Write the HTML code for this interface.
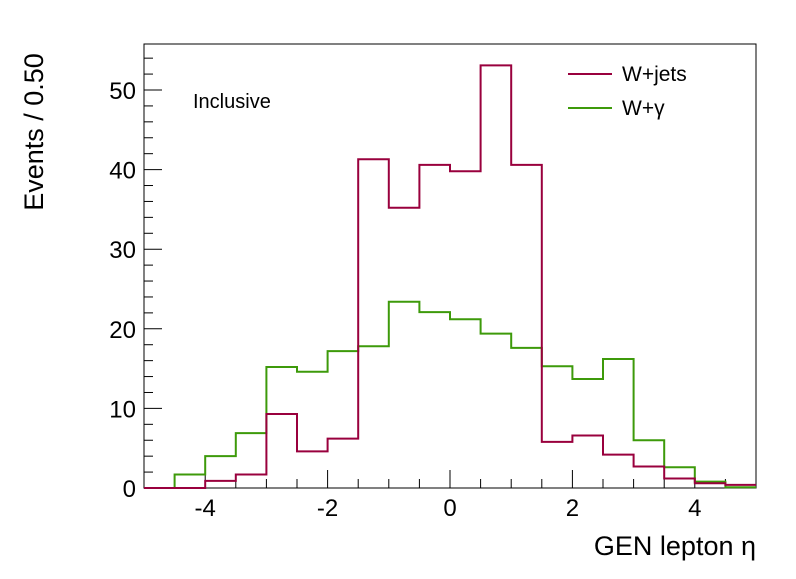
<!DOCTYPE html>
<html><head><meta charset="utf-8"><style>
body{margin:0;background:#fff}
svg text{font-family:"Liberation Sans",sans-serif;fill:#000}
</style></head><body>
<svg id="c" width="796" height="574">
<rect width="796" height="574" fill="#fff"/>
</svg>
<script>
const binEdgesMin=-5, binWidth=0.5;
const wjets=[0,0,0.9,1.7,9.3,4.6,6.2,41.3,35.2,40.6,39.8,53.1,40.6,5.8,6.6,4.2,2.7,1.2,0.6,0.4];
const wgamma=[0,1.7,4.0,6.9,15.2,14.6,17.2,17.8,23.4,22.1,21.2,19.4,17.6,15.3,13.7,16.2,6.0,2.6,0.8,0.1];
const xTicks=[-4,-2,0,2,4];
const yTicks=[0,10,20,30,40,50];
const L=144,R=756,T=44,B=488;
const X=v=>L+(v+5)/10*(R-L);
const Y=v=>B-v*7.96;
const svg=document.getElementById('c');
const NS='http://www.w3.org/2000/svg';
function mk(t,a,p){const e=document.createElementNS(NS,t);for(const k in a)e.setAttribute(k,a[k]);(p||svg).appendChild(e);return e;}
const frame=mk('rect',{x:L,y:T,width:R-L,height:B-T,fill:'none',stroke:'#000','stroke-width':1});


for(let v=-5;v<=5.001;v+=0.5){const maj=Math.abs(v/2-Math.round(v/2))<1e-6;const len=maj?18:9;
 const t=mk('line',{x1:X(v),x2:X(v),y1:B,y2:B-len,stroke:'#000'});
 
 }
xTicks.forEach(v=>{const t=mk('text',{x:X(v),y:B+28,'text-anchor':'middle','font-size':24});t.textContent=v;
 
 });
for(let v=0;v<=54;v+=2){const maj=v%10==0;const len=maj?18:9;
 const t=mk('line',{x1:L,x2:L+len,y1:Y(v),y2:Y(v),stroke:'#000'});
 
 }
yTicks.forEach(v=>{const t=mk('text',{x:L-8,y:Y(v)+9,'text-anchor':'end','font-size':24});t.textContent=v;
 
 });
function hist(vals,color,name){let d='M'+X(binEdgesMin)+','+Y(0);
 vals.forEach((v,i)=>{const x0=X(binEdgesMin+i*binWidth),x1=X(binEdgesMin+(i+1)*binWidth);d+=' L'+x0+','+Y(v)+' L'+x1+','+Y(v);});
 const p=mk('path',{d:d,fill:'none',stroke:color,'stroke-width':2});
 
 }
hist(wgamma,'#3d9a0a','wgamma-histogram');
hist(wjets,'#99003d','wjets-histogram');
</script>
<svg width="796" height="574" style="position:absolute;left:0;top:0">
<text x="193" y="108" font-size="20">Inclusive</text>
<line x1="568" x2="612" y1="74" y2="74" stroke="#99003d" stroke-width="2"/>
<text x="622" y="81" font-size="21">W+jets</text>
<line x1="568" x2="612" y1="108" y2="108" stroke="#3d9a0a" stroke-width="2"/>
<text x="622" y="115" font-size="21">W+γ</text>
<text x="756" y="555" font-size="27" text-anchor="end">GEN lepton η</text>
<text transform="translate(43,132) rotate(-90)" font-size="27" text-anchor="middle">Events / 0.50</text>
</svg>
</body></html>
